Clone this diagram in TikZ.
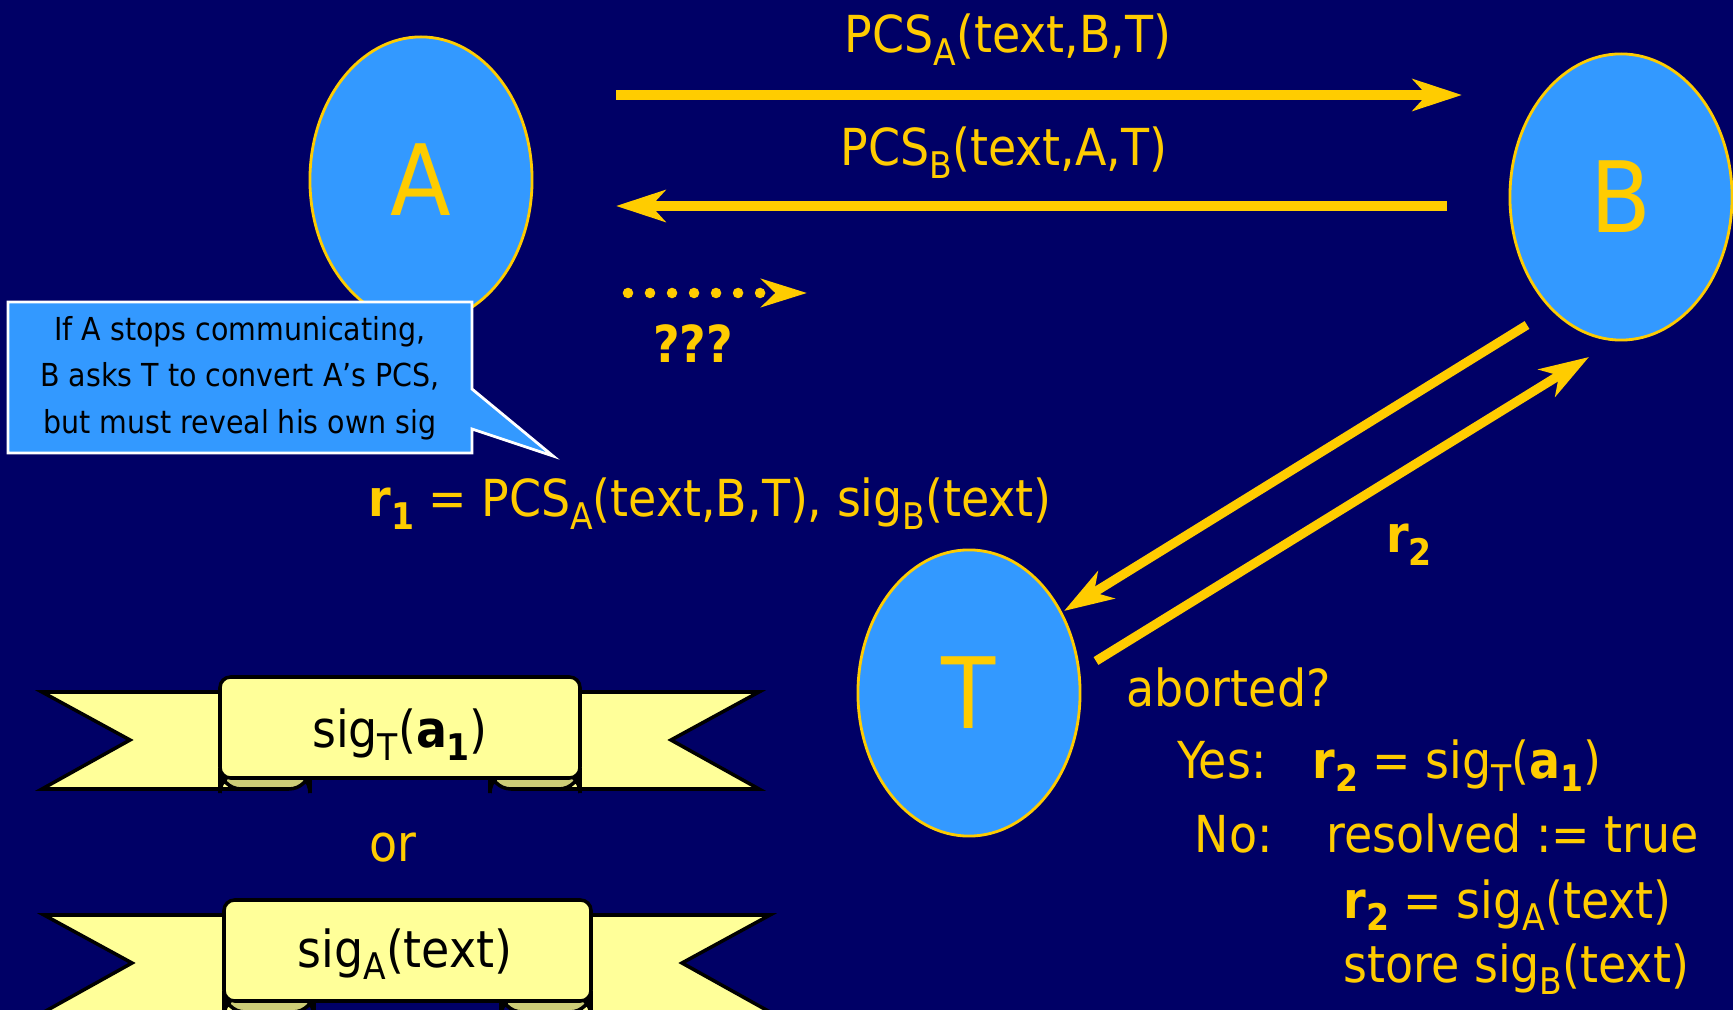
\documentclass[tikz,border=0pt]{standalone}
\usepackage{fontspec}
\setmainfont{DejaVu Sans Condensed}
\usetikzlibrary{arrows.meta,shapes.geometric}
\definecolor{navy}{HTML}{000066}
\definecolor{gold}{HTML}{FFCC00}
\definecolor{skyfill}{HTML}{3399FF}
\definecolor{scroll}{HTML}{FFFF99}
\definecolor{scrollfold}{HTML}{CCCC77}
\newcommand{\dn}[1]{\raisebox{-0.25em}{\scalebox{0.72}{#1}}}
\tikzset{
    party/.style={ellipse, draw=gold, line width=0.8pt, fill=skyfill, inner sep=0pt,
        minimum width=2.22cm, minimum height=2.86cm, text=gold, font=\fontsize{28}{30}\selectfont},
    lbl/.style={text=gold, inner sep=0pt, font=\fontsize{14.5}{17}\selectfont},
    msg/.style={draw=gold, line width=2.6pt, -{Stealth[length=14pt,width=9pt,inset=4pt]}},
    dots/.style={draw=gold, line width=3pt, line cap=round, dash pattern=on 0pt off 6.26pt,
        -{Stealth[length=13pt,width=8pt,inset=4pt]}},
    note/.style={text=black, align=center, inner sep=0pt, font=\fontsize{9}{13.2}\selectfont},
    scrolltext/.style={text=black, inner sep=0pt, font=\fontsize{14.5}{17}\selectfont}
}
\begin{document}
\begin{tikzpicture}[x=0.01cm, y=-0.01cm]
    \useasboundingbox (0,0) rectangle (1733,1010);
    \fill[navy] (0,0) rectangle (1733,1010);
    % Parties
    \node[party] (A) at (421,180) {A};
    \node[party] (B) at (1621,197) {B};
    \node[party] (T) at (969,693) {T};
    % Messages A <-> B
    \coordinate (ab1) at (616,95);
    \coordinate (ab2) at (1462,95);
    \coordinate (ba1) at (1447,206);
    \coordinate (ba2) at (616,206);
    \draw[msg] (ab1) -- (ab2);
    \draw[msg] (ba1) -- (ba2);
    \node[lbl, anchor=base] (pcsa) at (1008,53) {PCS\dn{A}(text,B,T)};
    \node[lbl, anchor=base] (pcsb) at (1004,166) {PCS\dn{B}(text,A,T)};
    % A goes silent
    \coordinate (d1) at (628,293);
    \coordinate (d2) at (807,293);
    \draw[dots] (d1) -- (d2);
    \node[lbl, anchor=base] (qqq) at (693,363) {\textbf{???}};
    % Callout
    \filldraw[fill=skyfill, draw=white, line width=0.8pt] (8,302) -- (472,302) -- (472,389)
        -- (553,456) -- (472,429) -- (472,453) -- (8,453) -- cycle;
    \node[note] (why) at (240,378) {If A stops communicating,\\B asks T to convert A’s PCS,\\but must reveal his own sig};
    \node[lbl, anchor=base] (rone) at (710,517) {\textbf{r\dn{1}} = PCS\dn{A}(text,B,T), sig\dn{B}(text)};
    % B <-> T
    \coordinate (bt1) at (1527,325);
    \coordinate (bt2) at (1064,611);
    \coordinate (tb1) at (1096,661);
    \coordinate (tb2) at (1589,357);
    \draw[msg] (bt1) -- (bt2);
    \draw[msg] (tb1) -- (tb2);
    \node[lbl, anchor=base] (rtwo) at (1409,553) {\textbf{r\dn{2}}};
    % T decides
    \node[lbl, anchor=base west] (abrt) at (1126,707) {aborted?};
    \node[lbl, anchor=base west] (yes) at (1177,779) {Yes:};
    \node[lbl, anchor=base west] (yesr) at (1312,779) {\textbf{r\dn{2}} = sig\dn{T}(\textbf{a\dn{1}})};
    \node[lbl, anchor=base west] (no) at (1194,853) {No:};
    \node[lbl, anchor=base west] (nores) at (1326,853) {resolved := true};
    \node[lbl, anchor=base west] (nor) at (1343,918) {\textbf{r\dn{2}} = sig\dn{A}(text)};
    \node[lbl, anchor=base west] (nost) at (1343,982) {store sig\dn{B}(text)};
    % Ribbons
    \foreach \yy/\pl/\pr/\tl/\tr in {692/220/580/42/759, 915/224/591/44/770} {
        \filldraw[fill=scroll, draw=black, line width=1pt] (\tl,\yy) -- (\pl+60,\yy) -- (\pl+60,\yy+97)
            -- (\tl,\yy+97) -- (\tl+88,\yy+48) -- cycle;
        \filldraw[fill=scroll, draw=black, line width=1pt] (\tr,\yy) -- (\pr-60,\yy) -- (\pr-60,\yy+97)
            -- (\tr,\yy+97) -- (\tr-88,\yy+48) -- cycle;
        \filldraw[fill=scrollfold, draw=black, line width=1pt, rounded corners=6] (\pl,\yy+80) rectangle (\pl+90,\yy+97);
        \filldraw[fill=scrollfold, draw=black, line width=1pt, rounded corners=6] (\pr-90,\yy+80) rectangle (\pr,\yy+97);
        \filldraw[fill=scroll, draw=black, line width=1pt, rounded corners=3] (\pl,\yy-15) rectangle (\pr,\yy+86);
    }
    \node[scrolltext, anchor=base] (sigt) at (400,748) {sig\dn{T}(\textbf{a\dn{1}})};
    \node[lbl, anchor=base] (or) at (393,862) {or};
    \node[scrolltext, anchor=base] (siga) at (405,967) {sig\dn{A}(text)};
\end{tikzpicture}
\end{document}
